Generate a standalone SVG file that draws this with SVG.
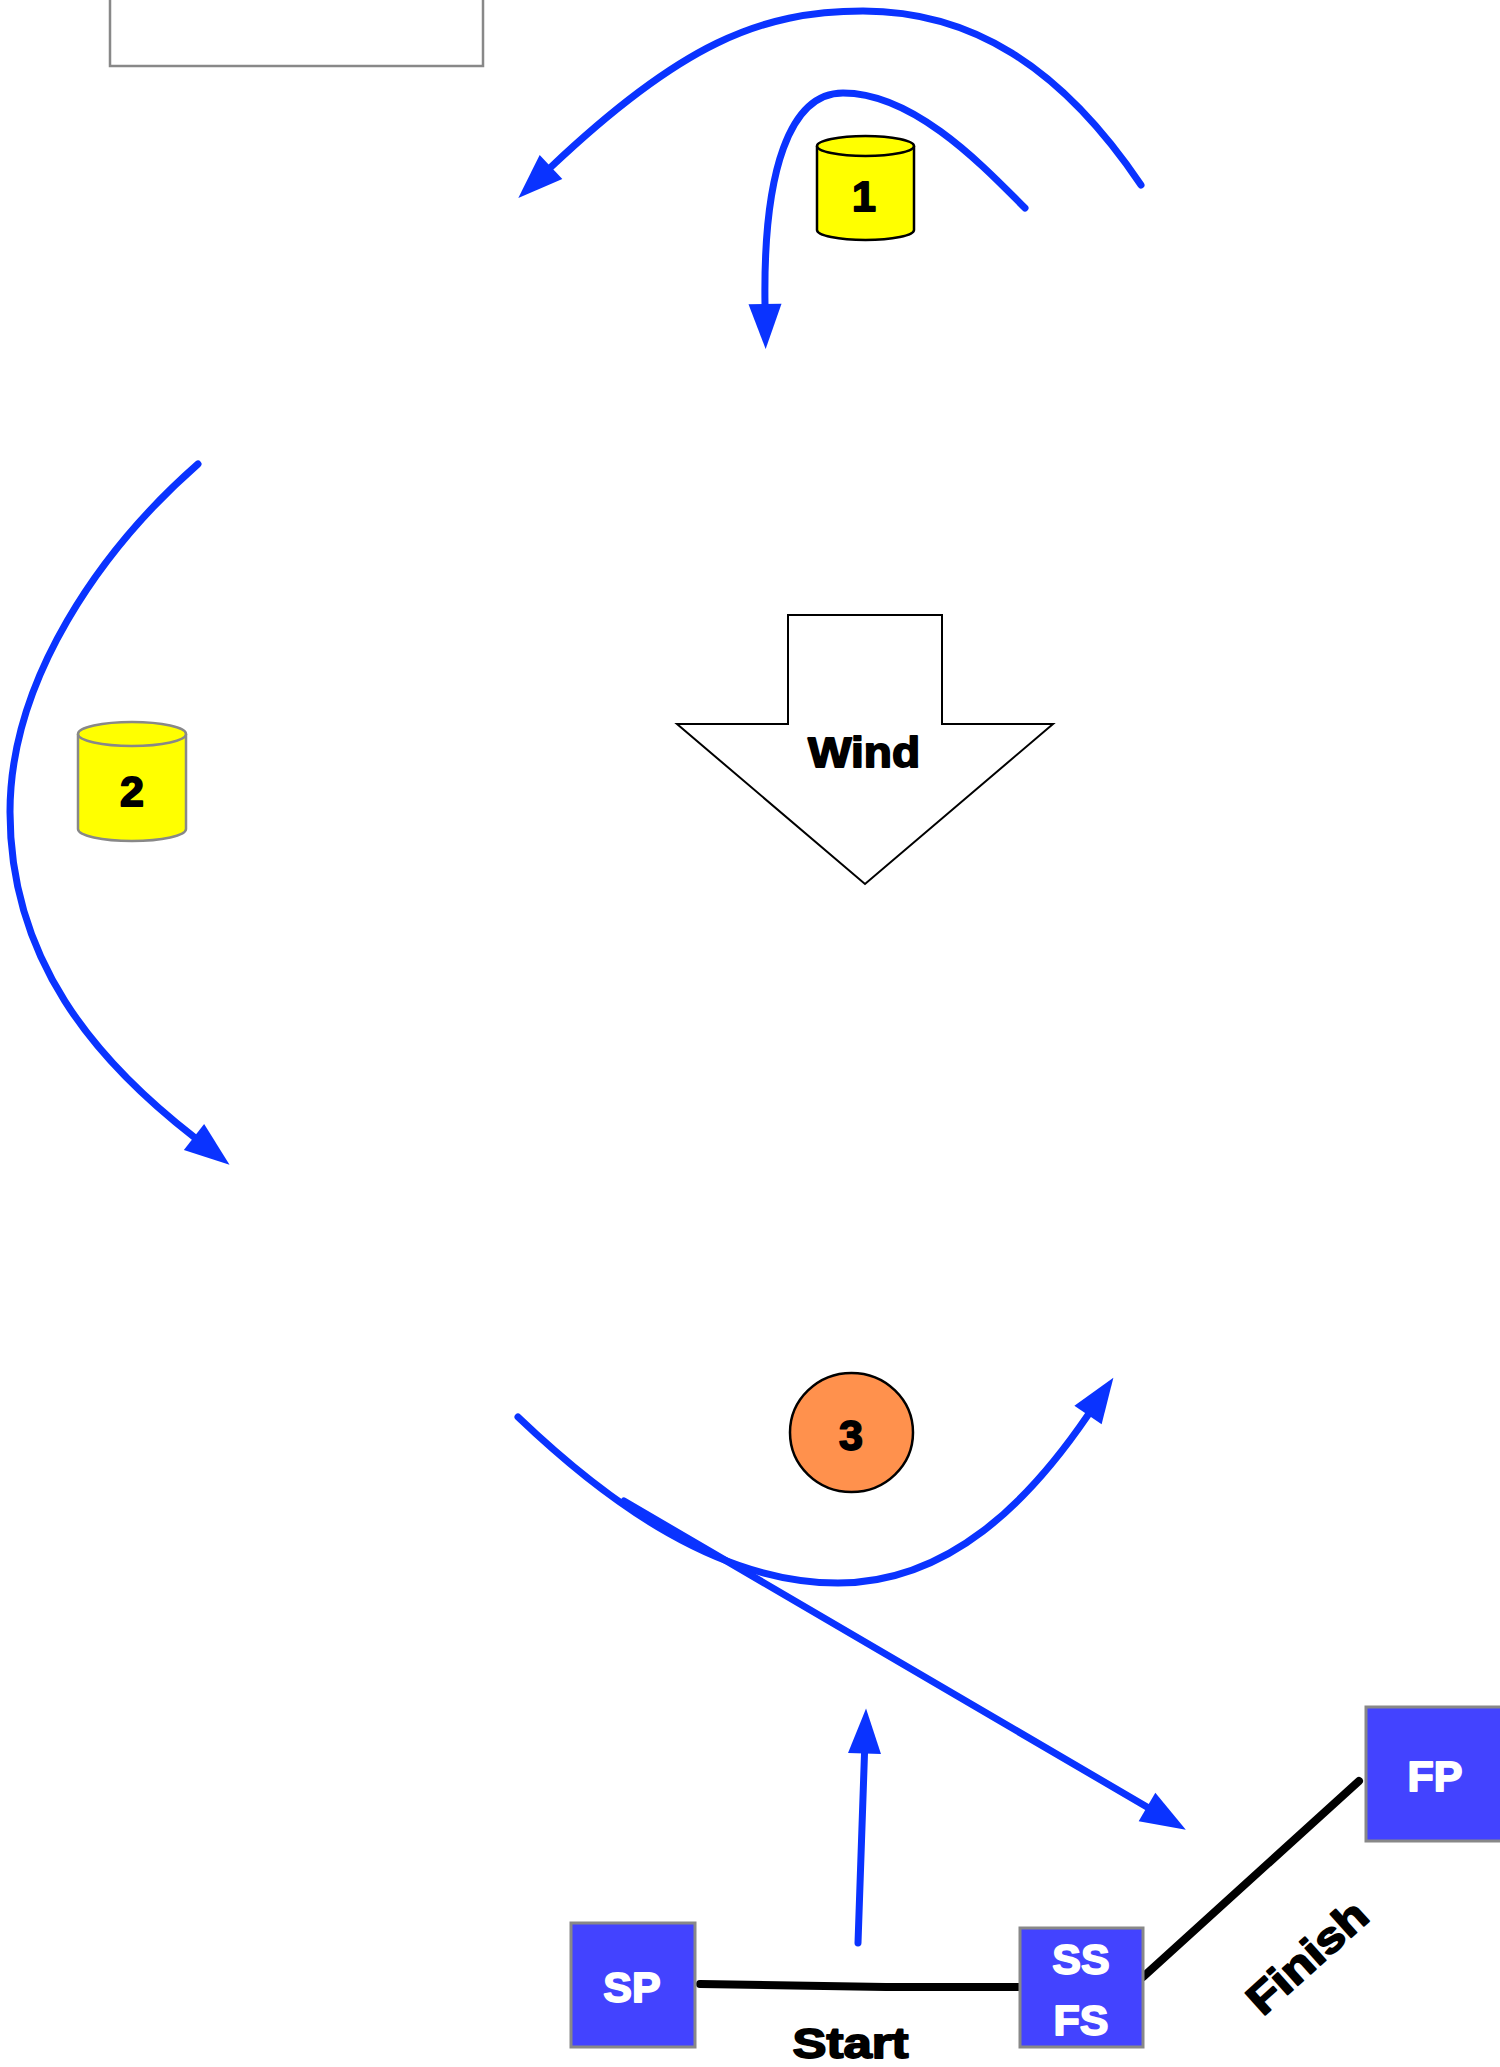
<svg xmlns="http://www.w3.org/2000/svg" width="1500" height="2067" viewBox="0 0 1500 2067">
<style>
.blue{fill:none;stroke:#0A33FF;stroke-width:7;stroke-linecap:round}
.blk{fill:none;stroke:#000;stroke-width:8;stroke-linecap:round}
.cyl{fill:#FFFF00;stroke-width:2.5}
.box{fill:#4343FF;stroke:#888;stroke-width:3}
.lbl{font-family:"Liberation Sans",Arial,sans-serif;font-weight:bold;text-anchor:middle;stroke-width:1.8;stroke-linejoin:round}
.wt{fill:#fff;stroke:#fff;font-size:43px}
.bk{fill:#000;stroke:#000;font-size:43px}
</style>
<defs>
<marker id="ah" markerUnits="userSpaceOnUse" markerWidth="46" markerHeight="34" refX="0" refY="16.5" orient="auto" overflow="visible">
<path d="M0,0 L45,16.5 L0,33 z" fill="#0A33FF"/>
</marker>
</defs>
<g id="topbox"><rect x="110" y="-50" width="373" height="116" fill="#fff" stroke="#888" stroke-width="2.5"/></g>
<g id="connectors">
<path class="blue" d="M1141,185 C1060,65 970,11 863,11 C760,11 680,45 551,167" marker-end="url(#ah)"/>
<path class="blue" d="M1025,208 C985,168 915,93 843,93 C790,93 763,170 765,304" marker-end="url(#ah)"/>
<path class="blue" d="M198,464 C100,550 10,680 10,812 C10,960 95,1060 194,1137" marker-end="url(#ah)"/>
<path class="blue" d="M518,1417 C610,1505 720,1583 838,1583 C950,1583 1030,1500 1088,1415" marker-end="url(#ah)"/>
<path class="blue" d="M624,1501 L1147,1807" marker-end="url(#ah)"/>
<path class="blue" d="M858,1943 L864.5,1753.5" marker-end="url(#ah)"/>
<path class="blk" d="M700,1984 L886,1987 L1019,1987"/>
<path class="blk" d="M1143,1977 L1359,1781"/>
</g>
<g id="cyl1">
<path class="cyl" stroke="#000" d="M817,146 L817,230 A48.5,10 0 0 0 914,230 L914,146"/>
<ellipse class="cyl" stroke="#000" cx="865.5" cy="146" rx="48.5" ry="10"/>
<text class="lbl bk" x="864" y="211" font-size="44">1</text>
</g>
<g id="cyl2">
<path class="cyl" stroke="#888" d="M78,734 L78,829 A54,12 0 0 0 186,829 L186,734"/>
<ellipse class="cyl" stroke="#888" cx="132" cy="734" rx="54" ry="12"/>
<text class="lbl bk" x="132" y="806">2</text>
</g>
<g id="wind">
<polygon points="788,615 942,615 942,724 1053,724 865,884 677,724 788,724" fill="#fff" stroke="#000" stroke-width="2"/>
<text class="lbl bk" x="864" y="767" font-size="42" textLength="112" lengthAdjust="spacingAndGlyphs">Wind</text>
</g>
<g id="mark3">
<ellipse cx="851.5" cy="1432.5" rx="61.5" ry="59.5" fill="#FF914D" stroke="#000" stroke-width="2.5"/>
<text class="lbl bk" x="851" y="1450">3</text>
</g>
<g id="sp">
<rect class="box" x="571" y="1923" width="124" height="124"/>
<text class="lbl wt" x="632" y="2002">SP</text>
</g>
<g id="ssfs">
<rect class="box" x="1020" y="1928" width="123" height="119"/>
<text class="lbl wt" x="1081" y="1974">SS</text>
<text class="lbl wt" x="1081" y="2035">FS</text>
</g>
<g id="fp">
<rect class="box" x="1366" y="1707" width="140" height="134"/>
<text class="lbl wt" x="1435" y="1791">FP</text>
</g>
<g id="labels">
<text class="lbl bk" x="850.5" y="2058" textLength="116" lengthAdjust="spacingAndGlyphs">Start</text>
<text class="lbl bk" transform="translate(1307,1957) rotate(-42)" x="0" y="15" textLength="146" lengthAdjust="spacingAndGlyphs">Finish</text>
</g>
</svg>
